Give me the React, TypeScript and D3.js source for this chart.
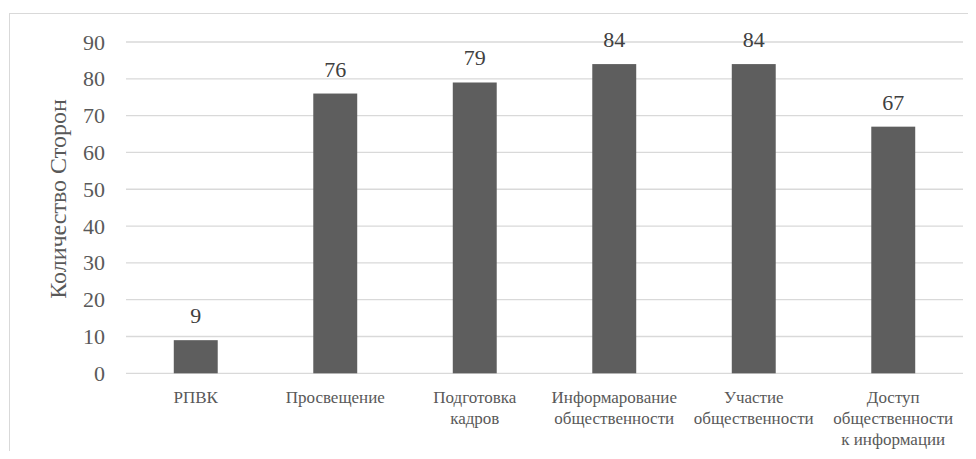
import React from "react";
import * as d3 from "d3";

const categories: string[][] = [
  ["РПВК"],
  ["Просвещение"],
  ["Подготовка", "кадров"],
  ["Информарование", "общественности"],
  ["Участие", "общественности"],
  ["Доступ", "общественности", "к информации"],
];
const values: number[] = [9, 76, 79, 84, 84, 67];
const yTicks: number[] = [0, 10, 20, 30, 40, 50, 60, 70, 80, 90];
const yTitle = "Количество Сторон";

const W = 976;
const H = 459;
const plot = { left: 126, right: 963, top: 42, bottom: 373.3 };
const TEXT = "#595959";
const FAM = "Liberation Serif";

export default function App() {
  const x = d3
    .scaleBand<number>()
    .domain(d3.range(values.length))
    .range([plot.left, plot.right])
    .paddingInner(0.685)
    .paddingOuter(0.3425);
  const y = d3.scaleLinear().domain([0, 90]).range([plot.bottom, plot.top]);

  return (
    <div style={{ margin: "-8px", width: W, height: H, overflow: "hidden" }}>
      <svg width={W} height={H} style={{ display: "block" }}>
        <rect x={9.5} y={13.5} width={W} height={H} fill="#fff" stroke="#d9d9d9" strokeWidth={1} />
        {yTicks.map((t) => (
          <line
            key={"g" + t}
            x1={plot.left}
            x2={plot.right}
            y1={y(t)}
            y2={y(t)}
            stroke="#d9d9d9"
            strokeWidth={1.3}
          />
        ))}
        {yTicks.map((t) => (
          <text
            key={"t" + t}
            x={105}
            y={y(t) + 7.5}
            textAnchor="end"
            fontSize={22}
            fill={TEXT}
            fontFamily={FAM}
            style={{ fontFamily: `"${FAM}"` }}
          >
            {t}
          </text>
        ))}
        {values.map((v, i) => (
          <rect
            key={"b" + i}
            x={x(i)}
            y={y(v)}
            width={x.bandwidth()}
            height={y(0) - y(v)}
            fill="#5e5e5e"
          />
        ))}
        {values.map((v, i) => (
          <text
            key={"v" + i}
            x={x(i)! + x.bandwidth() / 2}
            y={y(v) - 17}
            textAnchor="middle"
            fontSize={22}
            fill="#404040"
            fontFamily={FAM}
            style={{ fontFamily: `"${FAM}"` }}
          >
            {v}
          </text>
        ))}
        {categories.map((lines, i) =>
          lines.map((line, j) => (
            <text
              key={"c" + i + "-" + j}
              x={x(i)! + x.bandwidth() / 2}
              y={403 + j * 21}
              textAnchor="middle"
              fontSize={17}
              fill={TEXT}
              fontFamily={FAM}
              style={{ fontFamily: `"${FAM}"` }}
            >
              {line}
            </text>
          ))
        )}
        <text
          transform="translate(66, 199) rotate(-90)"
          textAnchor="middle"
          fontSize={24}
          fill={TEXT}
          fontFamily={FAM}
          style={{ fontFamily: `"${FAM}"` }}
        >
          {yTitle}
        </text>
      </svg>
    </div>
  );
}
